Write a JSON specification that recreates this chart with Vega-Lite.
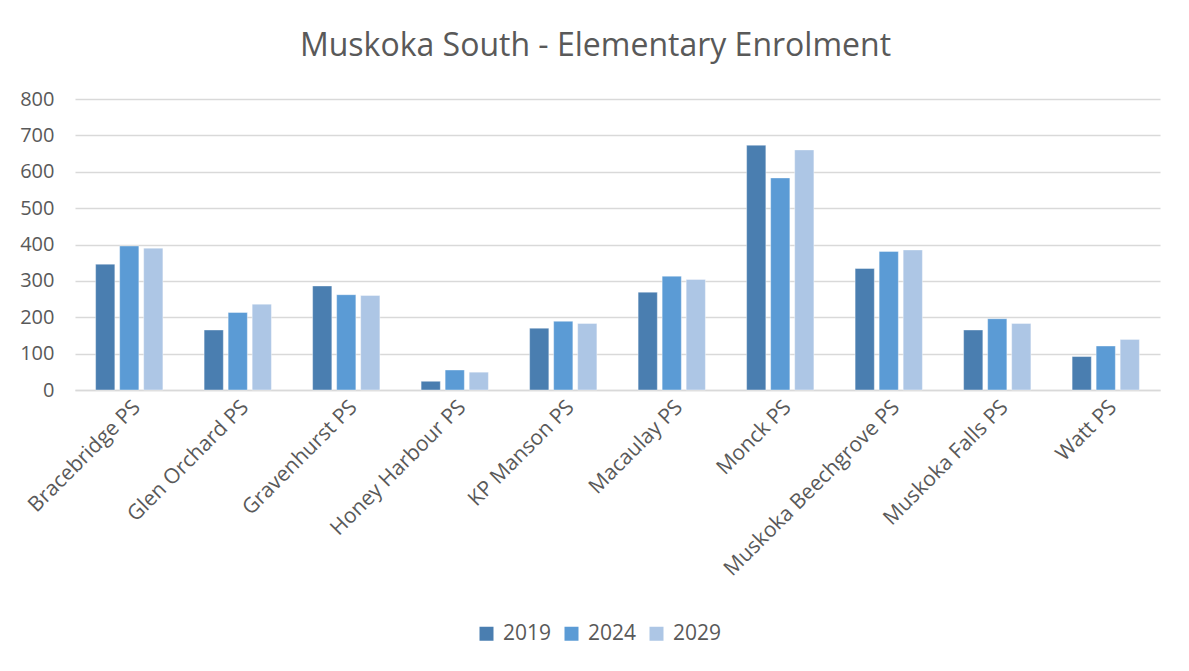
{
  "$schema": "https://vega.github.io/schema/vega-lite/v6.json",
  "width": 1085,
  "height": 291,
  "autosize": {"type": "none"},
  "padding": {"left": 75, "top": 99, "right": 29, "bottom": 281},
  "background": "white",
  "title": {
    "text": "Muskoka South - Elementary Enrolment",
    "font": "Open Sans",
    "fontSize": 32,
    "fontWeight": 400,
    "color": "#595959",
    "anchor": "middle",
    "dx": -22,
    "offset": 26
  },
  "data": {
    "values": [
      {"school": "Bracebridge PS", "year": "2019", "enrolment": 346},
      {"school": "Bracebridge PS", "year": "2024", "enrolment": 396},
      {"school": "Bracebridge PS", "year": "2029", "enrolment": 390},
      {"school": "Glen Orchard PS", "year": "2019", "enrolment": 165},
      {"school": "Glen Orchard PS", "year": "2024", "enrolment": 213},
      {"school": "Glen Orchard PS", "year": "2029", "enrolment": 236},
      {"school": "Gravenhurst PS", "year": "2019", "enrolment": 286},
      {"school": "Gravenhurst PS", "year": "2024", "enrolment": 262},
      {"school": "Gravenhurst PS", "year": "2029", "enrolment": 260},
      {"school": "Honey Harbour PS", "year": "2019", "enrolment": 24},
      {"school": "Honey Harbour PS", "year": "2024", "enrolment": 55},
      {"school": "Honey Harbour PS", "year": "2029", "enrolment": 49},
      {"school": "KP Manson PS", "year": "2019", "enrolment": 170},
      {"school": "KP Manson PS", "year": "2024", "enrolment": 189},
      {"school": "KP Manson PS", "year": "2029", "enrolment": 183},
      {"school": "Macaulay PS", "year": "2019", "enrolment": 269},
      {"school": "Macaulay PS", "year": "2024", "enrolment": 313},
      {"school": "Macaulay PS", "year": "2029", "enrolment": 304},
      {"school": "Monck PS", "year": "2019", "enrolment": 673},
      {"school": "Monck PS", "year": "2024", "enrolment": 583},
      {"school": "Monck PS", "year": "2029", "enrolment": 660},
      {"school": "Muskoka Beechgrove PS", "year": "2019", "enrolment": 334},
      {"school": "Muskoka Beechgrove PS", "year": "2024", "enrolment": 381},
      {"school": "Muskoka Beechgrove PS", "year": "2029", "enrolment": 385},
      {"school": "Muskoka Falls PS", "year": "2019", "enrolment": 165},
      {"school": "Muskoka Falls PS", "year": "2024", "enrolment": 196},
      {"school": "Muskoka Falls PS", "year": "2029", "enrolment": 183},
      {"school": "Watt PS", "year": "2019", "enrolment": 92},
      {"school": "Watt PS", "year": "2024", "enrolment": 121},
      {"school": "Watt PS", "year": "2029", "enrolment": 139}
    ]
  },
  "mark": {"type": "bar", "stroke": "white", "strokeOpacity": 0.4, "strokeWidth": 1},
  "encoding": {
    "x": {
      "field": "school",
      "type": "nominal",
      "sort": null,
      "scale": {"paddingInner": 0.38, "paddingOuter": 0.19},
      "axis": {
        "title": null,
        "labelAngle": -45,
        "labelFont": "Open Sans",
        "labelFontSize": 21,
        "labelLimit": 500,
        "labelColor": "#595959",
        "ticks": false,
        "labelPadding": 6,
        "labelDx": -5,
        "domainColor": "#d9d9d9",
        "domainWidth": 1.5,
        "grid": false
      }
    },
    "xOffset": {"field": "year", "type": "nominal", "scale": {"paddingInner": 0.2}},
    "y": {
      "field": "enrolment",
      "type": "quantitative",
      "scale": {"domain": [0, 800]},
      "axis": {
        "title": null,
        "values": [0, 100, 200, 300, 400, 500, 600, 700, 800],
        "labelFont": "Open Sans",
        "labelFontSize": 20,
        "labelColor": "#595959",
        "ticks": false,
        "domain": false,
        "labelPadding": 21,
        "gridColor": "#d9d9d9",
        "gridWidth": 1.5
      }
    },
    "color": {
      "field": "year",
      "type": "nominal",
      "scale": {"domain": ["2019", "2024", "2029"], "range": ["#4a7eb0", "#5b9bd5", "#adc6e5"]},
      "legend": {
        "title": null,
        "orient": "none",
        "direction": "horizontal",
        "legendX": 401,
        "legendY": 524,
        "symbolType": "square",
        "symbolSize": 196,
        "symbolStrokeWidth": 0,
        "labelFont": "Open Sans",
        "labelFontSize": 21,
        "labelColor": "#595959",
        "columnPadding": 9,
        "labelOffset": 6
      }
    }
  },
  "config": {"view": {"stroke": null}}
}
